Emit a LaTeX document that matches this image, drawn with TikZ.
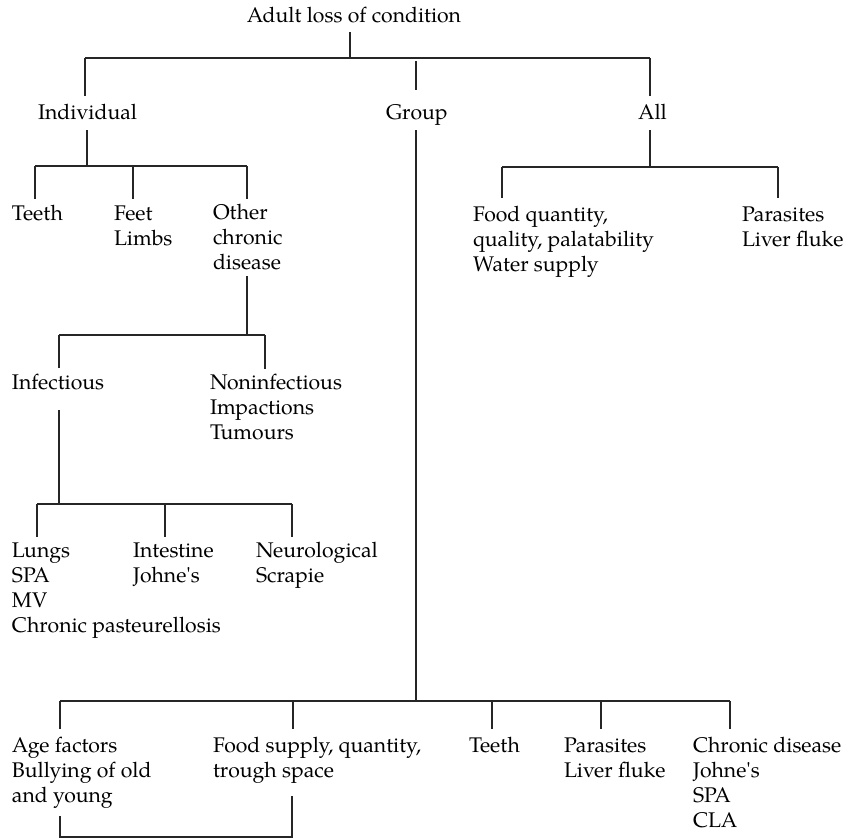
\documentclass[tikz,border=0pt]{standalone}
\usepackage{fontspec}
\setmainfont{TeX Gyre Pagella}
\begin{document}
\begin{tikzpicture}[x=1pt,y=-1pt,
  lbl/.style={anchor=north west, inner sep=0pt, outer sep=0pt, align=left,
              font=\fontsize{21.2}{25}\selectfont},
  link/.style={draw=black!85, line width=1.2pt}]
\useasboundingbox (0,0) rectangle (854,840);

% ---- root ----
\node[lbl, anchor=north] (root) at (354,5.4) {\strut Adult loss of condition};
\coordinate (r)  at (350,58);
\coordinate (rl) at (85,58);
\coordinate (rr) at (650,58);
\draw[link, shorten <=2pt] (r |- root.south) -- (r);
\draw[link] (rl) -- (rr);

\node[lbl] (ind) at (38,102.4)  {\strut Individual};
\node[lbl] (grp) at (386,102.4) {\strut Group};
\node[lbl] (all) at (638,102.4) {\strut All};
\coordinate (gtop) at (416,61);
\draw[link, shorten >=6pt]  (rl) -- (rl |- ind.north);
\draw[link, shorten >=12pt] (gtop) -- (gtop |- grp.north);
\draw[link, shorten >=6pt]  (rr) -- (rr |- all.north);

% ---- individual ----
\coordinate (ib) at (87,166);
\coordinate (i1) at (35,166);
\coordinate (i2) at (133,166);
\coordinate (i3) at (247,166);
\draw[link, shorten <=3pt] (ib |- ind.south) -- (ib);
\draw[link] (i1) -- (i3);

\node[lbl] (teethA) at (12,203.4)  {\strut Teeth};
\node[lbl] (feet)   at (114,203.4) {\strut Feet\\Limbs};
\node[lbl] (other)  at (213,202.4) {\strut Other\\chronic\\disease};
\draw[link, shorten >=4pt] (i1) -- (i1 |- teethA.north);
\draw[link, shorten >=4pt] (i2) -- (i2 |- feet.north);
\draw[link, shorten >=3pt] (i3) -- (i3 |- other.north);

% ---- other chronic disease ----
\coordinate (ob) at (247,335);
\coordinate (o1) at (59,335);
\coordinate (o2) at (265,335);
\draw[link, shorten <=6pt] (ob |- other.south) -- (ob);
\draw[link] (o1) -- (o2);

\node[lbl] (inf)    at (12,372.4)  {\strut Infectious};
\node[lbl] (noninf) at (210,372.4) {\strut Noninfectious\\Impactions\\Tumours};
\draw[link, shorten >=4pt] (o1) -- (o1 |- inf.north);
\draw[link, shorten >=3pt] (o2) -- (o2 |- noninf.north);

% ---- infectious ----
\coordinate (fb) at (59,504);
\coordinate (f1) at (37,504);
\coordinate (f2) at (165,504);
\coordinate (f3) at (292,504);
\draw[link, shorten <=13pt] (fb |- inf.south) -- (fb);
\draw[link] (f1) -- (f3);

\node[lbl] (lungs) at (12,540.4)  {\strut Lungs\\SPA\\MV\\Chronic pasteurellosis};
\node[lbl] (intes) at (133,540.4) {\strut Intestine\\Johne\textquotesingle s};
\node[lbl] (neuro) at (256,540.4) {\strut Neurological\\Scrapie};
\draw[link, shorten >=3pt] (f1) -- (f1 |- lungs.north);
\draw[link, shorten >=3pt] (f2) -- (f2 |- intes.north);
\draw[link, shorten >=3pt] (f3) -- (f3 |- neuro.north);

% ---- all ----
\coordinate (ab) at (650,167);
\coordinate (a1) at (502,167);
\coordinate (a2) at (778,167);
\draw[link, shorten <=3pt] (ab |- all.south) -- (ab);
\draw[link] (a1) -- (a2);

\node[lbl] (food)  at (473,204.4) {\strut Food quantity,\\quality, palatability\\Water supply};
\node[lbl] (paraA) at (742,204.4) {\strut Parasites\\Liver fluke};
\draw[link, shorten >=6pt] (a1) -- (a1 |- food.north);
\draw[link, shorten >=6pt] (a2) -- (a2 |- paraA.north);

% ---- group ----
\coordinate (gb) at (416,701);
\coordinate (g1) at (60,701);
\coordinate (g2) at (293,701);
\coordinate (g3) at (492,701);
\coordinate (g4) at (601,701);
\coordinate (g5) at (730,701);
\draw[link, shorten <=3pt] (gb |- grp.south) -- (gb);
\draw[link] (g1) -- (g5);

\node[lbl] (age)    at (12,735.4)  {\strut Age factors\\Bullying of old\\and young};
\node[lbl] (fsup)   at (213,735.4) {\strut Food supply, quantity,\\trough space};
\node[lbl] (teethB) at (469,735.4) {\strut Teeth};
\node[lbl] (paraB)  at (564,735.4) {\strut Parasites\\Liver fluke};
\node[lbl] (chron)  at (693,735.4) {\strut Chronic disease\\Johne\textquotesingle s\\SPA\\CLA};
\draw[link, shorten >=6pt] (g1) -- (g1 |- age.north);
\draw[link, shorten >=6pt] (g2) -- (g2 |- fsup.north);
\draw[link, shorten >=6pt] (g3) -- (g3 |- teethB.north);
\draw[link, shorten >=6pt] (g4) -- (g4 |- paraB.north);
\draw[link, shorten >=6pt] (g5) -- (g5 |- chron.north);

% ---- bracket linking age factors and food supply ----
\coordinate (bl) at (60,837);
\coordinate (br) at (292,837);
\draw[link, shorten <=7pt, shorten >=12pt]
  (bl |- age.south) -- (bl) -- (br) -- (br |- fsup.south);
\end{tikzpicture}
\end{document}
